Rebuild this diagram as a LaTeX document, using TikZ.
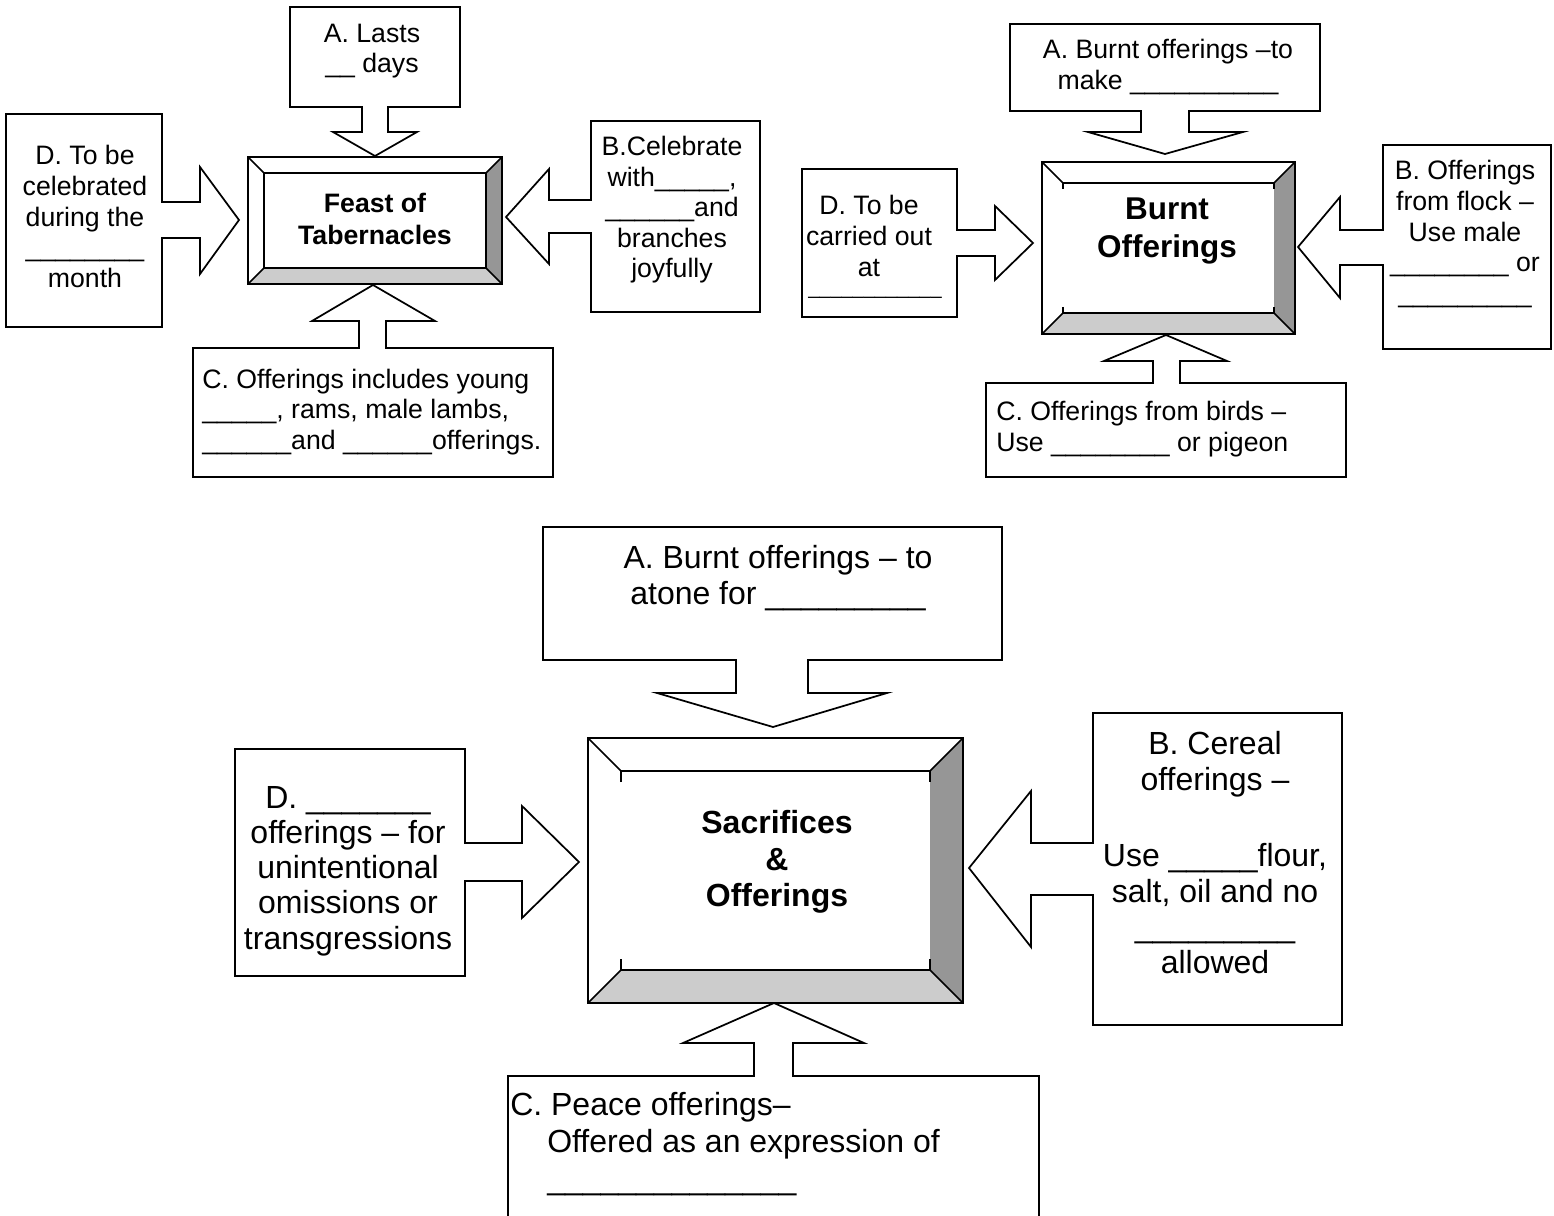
\documentclass[tikz,border=0pt]{standalone}
\usepackage{fontspec}
\setmainfont{Liberation Sans}
\definecolor{bevdarkc}{RGB}{150,150,150}
\definecolor{bevlightc}{RGB}{204,204,204}
\tikzset{
  co/.style={draw=black, line width=1.3pt, fill=white, line join=miter},
  bev/.style={draw=black, line width=1.3pt},
  txt/.style={font=\fontsize{20}{22.9}\selectfont, align=center, inner sep=0pt},
  txtl/.style={font=\fontsize{20}{22.9}\selectfont, align=left, inner sep=0pt, anchor=west},
  bigtxt/.style={font=\fontsize{24}{26.6}\selectfont, align=center, inner sep=0pt},
  bigtxtl/.style={font=\fontsize{24}{27.75}\selectfont, align=left, inner sep=0pt, anchor=west},
  title/.style={align=center, inner sep=0pt, font=\bfseries}
}
% x1 y1 x2 y2 d
\newcommand\BevBox[5]{%
  \fill[bevdarkc] (#3,#2) -- (#3,#4) -- ({#3-#5},{#4-#5}) -- ({#3-#5},{#2+#5}) -- cycle;
  \fill[bevlightc] (#1,#4) -- (#3,#4) -- ({#3-#5},{#4-#5}) -- ({#1+#5},{#4-#5}) -- cycle;
  \draw[bev] (#1,#2) -- ({#1+#5},{#2+#5}) (#3,#2) -- ({#3-#5},{#2+#5})
             (#1,#4) -- ({#1+#5},{#4-#5}) (#3,#4) -- ({#3-#5},{#4-#5});
  \draw[bev] (#1,#2) rectangle (#3,#4);
}
% x1 y1 x2 y2 d tick
\newcommand\BevInner[6]{%
  \draw[bev] ({#1+#5},{#2+#5+#6}) -- ({#1+#5},{#2+#5}) -- ({#3-#5},{#2+#5}) -- ({#3-#5},{#2+#5+#6});
  \draw[bev] ({#1+#5},{#4-#5-#6}) -- ({#1+#5},{#4-#5}) -- ({#3-#5},{#4-#5}) -- ({#3-#5},{#4-#5-#6});
}
\begin{document}
\begin{tikzpicture}[x=0.75pt,y=-0.75pt]
\useasboundingbox (0,0) rectangle (1554,1216);
\clip (0,0) rectangle (1554,1216);
\fill[white] (0,0) rectangle (1554,1216);

%================ Feast of Tabernacles =================
\BevBox{248}{157}{502}{284}{16}
\draw[bev] (264,173) rectangle (486,268);
\node[title, font=\bfseries\fontsize{20}{24}\selectfont] (feast) at (375,219) {Feast of\\Tabernacles};

% A (top)
\draw[co] (290,7) -- (460,7) -- (460,107) -- (388,107) -- (388,132) -- (417,132)
  -- (375,156) -- (333,132) -- (362,132) -- (362,107) -- (290,107) -- cycle;
\node[txt] (feastA) at (372,51) {A. Lasts\\\_\_ days};

% D (left)
\draw[co] (6,114) -- (162,114) -- (162,202) -- (200,202) -- (200,167) -- (239,220)
  -- (200,274) -- (200,238) -- (162,238) -- (162,327) -- (6,327) -- cycle;
\node[txt] (feastD) at (85,216.5) {D. To be\\celebrated\\during the\\\_\_\_\_\_\_\_\_\\month};

% B (right)
\draw[co] (591,121) -- (760,121) -- (760,312) -- (591,312) -- (591,233) -- (549,233)
  -- (549,264) -- (506,217) -- (549,169) -- (549,200) -- (591,200) -- cycle;
\node[txt] (feastB) at (672,210) {B.Celebrate\\with\_\_\_\_\_,\\\_\_\_\_\_\_and\\branches\\joyfully};

% C (bottom)
\draw[co] (193,348) -- (359,348) -- (359,321) -- (312,321) -- (373,285) -- (435,321)
  -- (386,321) -- (386,348) -- (553,348) -- (553,477) -- (193,477) -- cycle;
\node[txtl] (feastC) at (202,412) {C. Offerings includes young\\\_\_\_\_\_, rams, male lambs,\\\_\_\_\_\_\_and \_\_\_\_\_\_offerings.};

%================ Burnt Offerings =================
\BevBox{1042}{162}{1295}{334}{21}
\BevInner{1042}{162}{1295}{334}{21}{6}
\node[title, font=\bfseries\fontsize{23.6}{28.5}\selectfont] (burnt) at (1167,231) {Burnt\\Offerings};

% A (top)
\draw[co] (1010,24) -- (1320,24) -- (1320,111) -- (1189,111) -- (1189,132) -- (1243,132)
  -- (1165,154) -- (1088,132) -- (1141,132) -- (1141,111) -- (1010,111) -- cycle;
\node[txt] (burntA) at (1168,67) {A. Burnt offerings –to\\make \_\_\_\_\_\_\_\_\_\_};

% D (left)
\draw[co] (802,169) -- (957,169) -- (957,230) -- (995,230) -- (995,206) -- (1033,243)
  -- (995,280) -- (995,256) -- (957,256) -- (957,317) -- (802,317) -- cycle;
\node[txt] (burntD) at (869,236) {D. To be\\carried out\\at};
\node[inner sep=0pt, font=\fontsize{15}{15}\selectfont] (burntDline) at (875,296) {\_\_\_\_\_\_\_\_\_\_\_\_};

% B (right)
\draw[co] (1383,145) -- (1551,145) -- (1551,349) -- (1383,349) -- (1383,265) -- (1340,265)
  -- (1340,298) -- (1298,247) -- (1340,197) -- (1340,230) -- (1383,230) -- cycle;
\node[txt] (burntB) at (1465,234) {B. Offerings\\from flock –\\Use male\\\_\_\_\_\_\_\_\_ or\\\_\_\_\_\_\_\_\_\_};

% C (bottom)
\draw[co] (986,383) -- (1153,383) -- (1153,361) -- (1104,361) -- (1166,335) -- (1227,361)
  -- (1180,361) -- (1180,383) -- (1346,383) -- (1346,477) -- (986,477) -- cycle;
\node[txtl] (burntC) at (996,429) {C. Offerings from birds –\\Use \_\_\_\_\_\_\_\_ or pigeon};

%================ Sacrifices & Offerings =================
\BevBox{588}{738}{963}{1003}{33}
\BevInner{588}{738}{963}{1003}{33}{11}
\node[title, font=\bfseries\fontsize{24}{27.4}\selectfont] (sacr) at (777,862) {Sacrifices\\\&\\Offerings};

% A (top)
\draw[co] (543,527) -- (1002,527) -- (1002,660) -- (808,660) -- (808,693) -- (887,693)
  -- (773,727) -- (657,693) -- (736,693) -- (736,660) -- (543,660) -- cycle;
\node[bigtxt] (sacrA) at (778,578) {A. Burnt offerings – to\\atone for \_\_\_\_\_\_\_\_\_};

% D (left)
\draw[co] (235,749) -- (465,749) -- (465,843) -- (522,843) -- (522,806) -- (579,862)
  -- (522,918) -- (522,881) -- (465,881) -- (465,976) -- (235,976) -- cycle;
\node[bigtxt, font=\fontsize{24}{26.4}\selectfont] (sacrD) at (348,871) {D. \_\_\_\_\_\_\_\\offerings – for\\unintentional\\omissions or\\transgressions};

% B (right)
\draw[co] (1093,713) -- (1342,713) -- (1342,1025) -- (1093,1025) -- (1093,895) -- (1031,895)
  -- (1031,947) -- (969,868) -- (1031,791) -- (1031,843) -- (1093,843) -- cycle;
\node[bigtxt] (sacrB) at (1215,852.5) {B. Cereal\\offerings –\\[31.1pt]Use \_\_\_\_\_flour,\\salt, oil and no\\\_\_\_\_\_\_\_\_\_\\allowed};

% C (bottom)
\draw[co] (508,1076) -- (754,1076) -- (754,1043) -- (683,1043) -- (774,1003) -- (864,1043)
  -- (793,1043) -- (793,1076) -- (1039,1076) -- (1039,1260) -- (508,1260) -- cycle;
\node[bigtxtl] (sacrC) at (510,1144) {C. Peace offerings–\\\hspace*{27.75pt}Offered as an expression of\\\hspace*{27.75pt}\_\_\_\_\_\_\_\_\_\_\_\_\_\_};
\end{tikzpicture}
\end{document}
